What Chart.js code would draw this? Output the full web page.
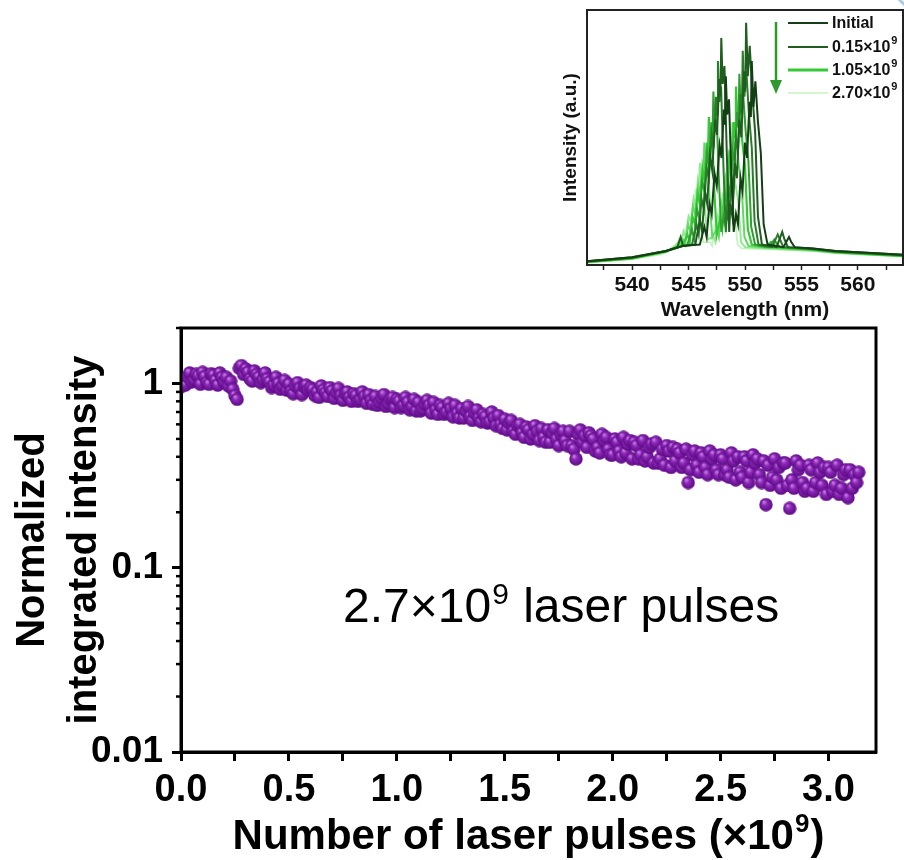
<!DOCTYPE html>
<html>
<head>
<meta charset="utf-8">
<script src="https://cdn.jsdelivr.net/npm/chart.js@4.4.0/dist/chart.umd.min.js"></script>
<style>
  body { margin: 0; background: #fff; }
  #wrap { position: relative; width: 904px; height: 860px; overflow: hidden; }
  #main { position: absolute; left: 0; top: 0; }
  #inset { position: absolute; left: 540px; top: 0; }
</style>
</head>
<body>
<div id="wrap">
  <canvas id="main" width="904" height="860" style="width:904px;height:860px"></canvas>
  <canvas id="inset" width="364" height="330" style="width:364px;height:330px"></canvas>
</div>
<script>
// ---- degradation curve: normalized integrated intensity vs pulses (x1e9), sampled every 0.01
const pulseStep = 0.01;
const intensity = [
  0.96, 1.03, 0.98, 1.09, 1.14, 1.02, 1.05, 1.12, 1.10, 0.99,
  1.15, 1.09, 1.01, 0.99, 1.13, 1.11, 1.04, 0.98, 1.14, 1.08,
  1.02, 1.08, 0.97, 1.03, 0.93, 0.86, 0.82, 1.21, 1.25, 1.12,
  1.20, 1.15, 1.06, 1.03, 1.17, 1.12, 1.08, 1.01, 1.05, 1.14,
  1.06, 1.02, 0.95, 0.98, 1.08, 1.00, 0.93, 0.97, 1.04, 0.92,
  0.99, 0.91, 0.88, 0.97, 1.01, 0.94, 0.87, 0.96, 0.98, 0.92,
  0.95, 0.93, 0.86, 0.90, 0.84, 0.97, 0.92, 0.89, 0.85, 0.95,
  0.91, 0.83, 0.89, 0.94, 0.86, 0.81, 0.88, 0.90, 0.84, 0.80,
  0.88, 0.86, 0.80, 0.82, 0.90, 0.85, 0.78, 0.87, 0.81, 0.77,
  0.85, 0.76, 0.79, 0.83, 0.87, 0.75, 0.78, 0.82, 0.84, 0.74,
  0.82, 0.80, 0.74, 0.76, 0.84, 0.79, 0.72, 0.75, 0.82, 0.71,
  0.79, 0.71, 0.73, 0.77, 0.81, 0.76, 0.69, 0.79, 0.72, 0.68,
  0.76, 0.74, 0.68, 0.70, 0.78, 0.73, 0.66, 0.76, 0.69, 0.65,
  0.73, 0.65, 0.71, 0.75, 0.66, 0.63, 0.69, 0.72, 0.65, 0.62,
  0.68, 0.66, 0.61, 0.62, 0.70, 0.65, 0.59, 0.67, 0.60, 0.57,
  0.64, 0.56, 0.61, 0.63, 0.55, 0.53, 0.59, 0.60, 0.54, 0.51,
  0.58, 0.56, 0.50, 0.53, 0.59, 0.55, 0.49, 0.57, 0.51, 0.48,
  0.56, 0.48, 0.54, 0.57, 0.50, 0.46, 0.53, 0.55, 0.49, 0.46,
  0.55, 0.46, 0.44, 0.39, 0.53, 0.56, 0.48, 0.52, 0.45, 0.54,
  0.52, 0.50, 0.43, 0.45, 0.42, 0.53, 0.49, 0.51, 0.44, 0.41,
  0.41, 0.50, 0.48, 0.43, 0.40, 0.51, 0.42, 0.47, 0.49, 0.39,
  0.48, 0.46, 0.39, 0.41, 0.49, 0.38, 0.40, 0.45, 0.47, 0.37,
  0.48, 0.37, 0.39, 0.44, 0.36, 0.46, 0.43, 0.35, 0.45, 0.38,
  0.44, 0.42, 0.35, 0.37, 0.44, 0.29, 0.34, 0.41, 0.43, 0.36,
  0.33, 0.42, 0.40, 0.35, 0.32, 0.43, 0.39, 0.41, 0.34, 0.32,
  0.41, 0.39, 0.32, 0.34, 0.31, 0.42, 0.38, 0.30, 0.40, 0.33,
  0.31, 0.40, 0.38, 0.29, 0.33, 0.41, 0.37, 0.39, 0.32, 0.29,
  0.38, 0.22, 0.36, 0.28, 0.31, 0.39, 0.30, 0.35, 0.27, 0.37,
  0.37, 0.28, 0.21, 0.30, 0.27, 0.38, 0.34, 0.36, 0.29, 0.26,
  0.27, 0.36, 0.34, 0.26, 0.29, 0.37, 0.33, 0.28, 0.35, 0.25,
  0.35, 0.33, 0.26, 0.28, 0.36, 0.25, 0.27, 0.32, 0.34, 0.24,
  0.34, 0.27, 0.32, 0.29, 0.33
];
const xTickValues = [0, 0.25, 0.5, 0.75, 1.0, 1.25, 1.5, 1.75, 2.0, 2.25, 2.5, 2.75, 3.0];
const yMajorTicks = [0.01, 0.1, 1];
const yMinorTicks = [0.02, 0.03, 0.04, 0.05, 0.06, 0.07, 0.08, 0.09,
                     0.2, 0.3, 0.4, 0.5, 0.6, 0.7, 0.8, 0.9, 2];

// ---- inset: emission spectra, [wavelength nm, intensity a.u.]
const specInitial = [[536,0.015],[540,0.03],[543,0.055],[544.5,0.075],[546.0,0.08],[546.4,0.15],[546.6,0.11],[546.85,0.24],[547.05,0.20],[547.3,0.36],[547.5,0.31],[547.75,0.47],[547.92,0.42],[548.12,0.61],[548.22,0.55],[548.3,0.74],[548.42,0.59],[548.58,0.65],[548.78,0.37],[549.0,0.13],[549.2,0.20],[549.38,0.16],[549.6,0.34],[549.78,0.29],[550.0,0.48],[550.18,0.42],[550.4,0.64],[550.52,0.58],[550.6,0.80],[550.75,0.62],[550.92,0.72],[551.15,0.56],[551.4,0.44],[551.65,0.16],[552.0,0.08],[553.4,0.07],[553.9,0.11],[554.1,0.09],[554.4,0.07],[556,0.065],[558,0.055],[560,0.05],[564,0.04]];
const spec015 = [[536,0.015],[540,0.03],[543,0.055],[544.0,0.07],[544.3,0.11],[544.5,0.075],[545.6,0.08],[546.0,0.18],[546.2,0.13],[546.45,0.29],[546.65,0.24],[546.9,0.43],[547.1,0.37],[547.35,0.57],[547.52,0.51],[547.72,0.73],[547.82,0.66],[547.9,0.89],[548.02,0.71],[548.18,0.78],[548.38,0.45],[548.6,0.13],[548.7,0.24],[548.88,0.19],[549.1,0.40],[549.28,0.34],[549.5,0.57],[549.68,0.50],[549.9,0.76],[550.02,0.68],[550.1,0.95],[550.25,0.74],[550.42,0.86],[550.65,0.67],[550.9,0.52],[551.15,0.19],[551.5,0.08],[552.8,0.07],[553.3,0.13],[553.5,0.10],[553.8,0.07],[556,0.065],[558,0.055],[560,0.05],[564,0.04]];
const spec045 = [[536,0.014],[540,0.028],[543,0.055],[544.5,0.074],[545.3,0.08],[545.7,0.16],[545.9,0.12],[546.15,0.26],[546.35,0.22],[546.6,0.38],[546.8,0.34],[547.05,0.51],[547.22,0.46],[547.42,0.66],[547.52,0.59],[547.6,0.80],[547.72,0.64],[547.88,0.70],[548.08,0.40],[548.3,0.13],[548.4,0.21],[548.58,0.17],[548.8,0.35],[548.98,0.30],[549.2,0.50],[549.38,0.45],[549.6,0.67],[549.72,0.60],[549.8,0.84],[549.95,0.66],[550.12,0.76],[550.35,0.59],[550.6,0.46],[550.85,0.17],[551.2,0.08],[552.4,0.07],[552.9,0.12],[553.1,0.10],[553.4,0.07],[556,0.063],[558,0.053],[560,0.048],[564,0.038]];
const spec075 = [[536,0.013],[540,0.027],[543,0.054],[544.3,0.072],[544.9,0.08],[545.3,0.14],[545.5,0.10],[545.75,0.22],[545.95,0.18],[546.2,0.33],[546.4,0.29],[546.65,0.44],[546.82,0.39],[547.02,0.56],[547.12,0.50],[547.2,0.68],[547.32,0.54],[547.48,0.60],[547.68,0.34],[547.9,0.13],[548.1,0.19],[548.28,0.15],[548.5,0.32],[548.68,0.27],[548.9,0.45],[549.08,0.40],[549.3,0.60],[549.42,0.54],[549.5,0.75],[549.65,0.59],[549.82,0.68],[550.05,0.53],[550.3,0.41],[550.55,0.15],[550.9,0.08],[552.1,0.07],[552.6,0.10],[552.8,0.085],[553.1,0.07],[556,0.062],[558,0.052],[560,0.047],[564,0.037]];
const spec105 = [[536,0.012],[540,0.026],[543,0.053],[544.0,0.07],[544.5,0.08],[544.9,0.12],[545.1,0.09],[545.35,0.19],[545.55,0.16],[545.8,0.28],[546.0,0.24],[546.25,0.37],[546.42,0.33],[546.62,0.48],[546.72,0.43],[546.8,0.58],[546.92,0.46],[547.08,0.51],[547.28,0.29],[547.5,0.12],[547.8,0.18],[547.98,0.14],[548.2,0.29],[548.38,0.25],[548.6,0.42],[548.78,0.37],[549.0,0.56],[549.12,0.50],[549.2,0.70],[549.35,0.55],[549.52,0.63],[549.75,0.49],[550.0,0.39],[550.25,0.14],[550.6,0.08],[551.8,0.07],[552.3,0.09],[552.8,0.07],[556,0.06],[558,0.05],[560,0.045],[564,0.036]];
const spec165 = [[536,0.011],[540,0.025],[543,0.052],[544.1,0.075],[544.5,0.10],[544.7,0.08],[544.95,0.16],[545.15,0.13],[545.4,0.23],[545.6,0.20],[545.85,0.31],[546.02,0.27],[546.22,0.39],[546.32,0.36],[546.4,0.48],[546.52,0.38],[546.68,0.42],[546.88,0.24],[547.1,0.11],[547.5,0.14],[547.68,0.11],[547.9,0.24],[548.08,0.20],[548.3,0.34],[548.48,0.30],[548.7,0.45],[548.82,0.40],[548.9,0.56],[549.05,0.44],[549.22,0.50],[549.45,0.39],[549.7,0.31],[549.95,0.11],[550.3,0.075],[552,0.068],[556,0.058],[558,0.049],[560,0.044],[564,0.035]];
const spec225 = [[536,0.01],[540,0.024],[543,0.05],[543.7,0.07],[544.1,0.09],[544.3,0.075],[544.55,0.13],[544.75,0.11],[545.0,0.19],[545.2,0.17],[545.45,0.26],[545.62,0.23],[545.82,0.33],[545.92,0.30],[546.0,0.40],[546.12,0.32],[546.28,0.35],[546.48,0.20],[546.7,0.10],[547.2,0.11],[547.38,0.09],[547.6,0.19],[547.78,0.16],[548.0,0.27],[548.18,0.24],[548.4,0.36],[548.52,0.32],[548.6,0.45],[548.75,0.35],[548.92,0.41],[549.15,0.32],[549.4,0.25],[549.65,0.09],[550.0,0.07],[552,0.065],[556,0.056],[558,0.048],[560,0.043],[564,0.034]];
const spec270 = [[536,0.01],[540,0.022],[542.5,0.042],[543.3,0.06],[543.7,0.075],[543.9,0.065],[544.15,0.10],[544.35,0.09],[544.6,0.14],[544.8,0.13],[545.05,0.19],[545.22,0.17],[545.42,0.25],[545.52,0.22],[545.6,0.30],[545.72,0.24],[545.88,0.26],[546.08,0.15],[546.3,0.09],[546.9,0.09],[547.08,0.075],[547.3,0.15],[547.48,0.13],[547.7,0.21],[547.88,0.19],[548.1,0.28],[548.22,0.25],[548.3,0.35],[548.45,0.27],[548.62,0.32],[548.85,0.25],[549.1,0.19],[549.35,0.08],[549.7,0.065],[552,0.062],[556,0.055],[558,0.047],[560,0.042],[564,0.033]];
const spectra = [specInitial, spec015, spec045, spec075, spec105, spec165, spec225, spec270];
const specLabels = ['Initial', '0.15×10^9', '', '', '1.05×10^9', '', '', '2.70×10^9'];
const specColors = ['#143f14', '#1f5e1f', '#2a7c2a', '#2f9f2f', '#36c936', '#62d962', '#93e893', '#c4f4bf'];
const specWidths = [2, 2, 2, 2, 2.2, 2, 2, 1.8];
const insetTicks = [537.5, 540, 542.5, 545, 547.5, 550, 552.5, 555, 557.5, 560, 562.5];

Chart.defaults.font.family = '"Liberation Sans", Arial, sans-serif';
Chart.defaults.color = '#000';

// shaded purple bead used as the marker
function makeBead(r) {
  const c = document.createElement('canvas');
  c.width = c.height = r * 2;
  const g = c.getContext('2d');
  const grad = g.createRadialGradient(r * 0.7, r * 0.6, 0.5, r, r, r);
  grad.addColorStop(0, '#c47ce2');
  grad.addColorStop(0.35, '#8a27b5');
  grad.addColorStop(1, '#5a0983');
  g.fillStyle = grad;
  g.beginPath();
  g.arc(r, r, r - 0.3, 0, Math.PI * 2);
  g.fill();
  return c;
}
const bead = makeBead(7);

const pulsePoints = intensity.map((v, i) => ({ x: i * pulseStep, y: v }));

// text with a raised "9" after the given prefix
function drawPow(ctx, before, after, x, y, big, small, rise) {
  ctx.font = big;
  ctx.fillText(before, x, y);
  x += ctx.measureText(before).width + 1;
  ctx.font = small;
  ctx.fillText('9', x, y - rise);
  x += ctx.measureText('9').width + 1;
  ctx.font = big;
  ctx.fillText(after, x, y);
}

// frame, minor log ticks, x title and the pulse-count note
const mainDecor = {
  id: 'mainDecor',
  afterDraw(chart) {
    const { ctx, chartArea: a } = chart;
    const ys = chart.scales.y;
    ctx.save();
    ctx.strokeStyle = '#000';
    ctx.lineWidth = 3;
    ctx.strokeRect(a.left, a.top, a.right - a.left, a.bottom - a.top);
    ctx.lineWidth = 2.5;
    yMinorTicks.forEach(v => {
      const y = ys.getPixelForValue(v);
      ctx.beginPath();
      ctx.moveTo(a.left - 5, y);
      ctx.lineTo(a.left, y);
      ctx.stroke();
    });
    ctx.fillStyle = '#000';
    ctx.textBaseline = 'alphabetic';

    // x axis title
    const tBig = 'bold 42px "Liberation Sans", Arial, sans-serif';
    const tSmall = 'bold 26px "Liberation Sans", Arial, sans-serif';
    ctx.font = tBig;
    const w1 = ctx.measureText('Number of laser pulses (×10').width;
    const w3 = ctx.measureText(')').width;
    ctx.font = tSmall;
    const w2 = ctx.measureText('9').width;
    const tx = (a.left + a.right) / 2 - (w1 + w2 + w3 + 2) / 2;
    drawPow(ctx, 'Number of laser pulses (×10', ')', tx, 849, tBig, tSmall, 17);

    // annotation
    drawPow(ctx, '2.7×10', ' laser pulses', 343, 622,
      '48px "Liberation Sans", Arial, sans-serif',
      '30px "Liberation Sans", Arial, sans-serif', 18);
    ctx.restore();
  }
};

new Chart(document.getElementById('main'), {
  type: 'scatter',
  data: {
    datasets: [{
      data: pulsePoints,
      pointStyle: bead,
      pointRadius: 7,
      pointHoverRadius: 7
    }]
  },
  options: {
    responsive: false,
    animation: false,
    devicePixelRatio: 1,
    layout: { padding: { top: 328, right: 28, left: 0, bottom: 0 } },
    plugins: { legend: { display: false }, tooltip: { enabled: false } },
    scales: {
      x: {
        type: 'linear',
        min: 0,
        max: 3.22,
        afterFit: s => { s.height = 108; },
        afterBuildTicks: s => { s.ticks = xTickValues.map(v => ({ value: v })); },
        ticks: {
          autoSkip: false,
          maxRotation: 0,
          padding: 7,
          color: '#000',
          font: { size: 38, weight: 'bold' },
          callback: v => (Math.abs(v * 2 - Math.round(v * 2)) < 1e-6 ? v.toFixed(1) : '')
        },
        grid: { drawOnChartArea: false, tickLength: 9, tickWidth: 3, tickColor: '#000' },
        border: { color: '#000', width: 3 },
        title: { display: false }
      },
      y: {
        type: 'logarithmic',
        min: 0.01,
        max: 2,
        afterFit: s => { s.width = 181; },
        afterBuildTicks: s => { s.ticks = yMajorTicks.map(v => ({ value: v })); },
        ticks: {
          autoSkip: false,
          padding: 9,
          color: '#000',
          font: { size: 37, weight: 'bold' },
          callback: v => String(v)
        },
        grid: { drawOnChartArea: false, tickLength: 9, tickWidth: 3, tickColor: '#000' },
        border: { color: '#000', width: 3 },
        title: {
          display: true,
          text: ['Normalized', 'integrated intensity'],
          color: '#000',
          font: { size: 40, weight: 'bold', lineHeight: 1.3 },
          padding: { top: 7, bottom: 0 }
        }
      }
    }
  },
  plugins: [mainDecor]
});

// inset frame, legend with superscripts, trend arrow
const insetDecor = {
  id: 'insetDecor',
  afterDraw(chart) {
    const { ctx, chartArea: a } = chart;
    ctx.save();
    ctx.strokeStyle = '#222';
    ctx.lineWidth = 2;
    ctx.strokeRect(a.left, a.top, a.right - a.left, a.bottom - a.top);

    const ox = 540;
    const rows = [23, 47, 70, 93];
    const legendWidths = [2, 2.2, 3.2, 1.4];
    let r = 0;
    specLabels.forEach((label, i) => {
      if (!label) return;
      const y = rows[r];
      ctx.strokeStyle = specColors[i];
      ctx.lineWidth = legendWidths[r];
      ctx.beginPath();
      ctx.moveTo(788 - ox, y);
      ctx.lineTo(828 - ox, y);
      ctx.stroke();
      const parts = label.split('^');
      ctx.fillStyle = '#111';
      ctx.textBaseline = 'middle';
      ctx.font = 'bold 16px "Liberation Sans", Arial, sans-serif';
      ctx.fillText(parts[0], 832 - ox, y + 1);
      if (parts[1]) {
        const w = ctx.measureText(parts[0]).width;
        ctx.font = 'bold 11px "Liberation Sans", Arial, sans-serif';
        ctx.fillText(parts[1], 832 - ox + w + 1, y - 6);
      }
      r++;
    });

    // downward arrow
    const axp = 776 - ox;
    ctx.strokeStyle = '#2e9a2e';
    ctx.fillStyle = '#2e9a2e';
    ctx.lineWidth = 2.5;
    ctx.beginPath();
    ctx.moveTo(axp, 22);
    ctx.lineTo(axp, 82);
    ctx.stroke();
    ctx.beginPath();
    ctx.moveTo(axp - 6, 80);
    ctx.lineTo(axp + 6, 80);
    ctx.lineTo(axp, 94);
    ctx.closePath();
    ctx.fill();

    // slide corner accent
    ctx.strokeStyle = '#a8cdea';
    ctx.lineWidth = 3;
    ctx.beginPath();
    ctx.arc(392, -30, 44, Math.PI * 0.55, Math.PI * 0.95);
    ctx.stroke();
    ctx.restore();
  }
};

new Chart(document.getElementById('inset'), {
  type: 'line',
  data: {
    datasets: spectra.map((pts, i) => ({
      label: specLabels[i],
      data: pts.map(p => ({ x: p[0], y: p[1] })),
      borderColor: specColors[i],
      borderWidth: specWidths[i],
      pointRadius: 0,
      tension: 0,
      fill: false
    }))
  },
  options: {
    responsive: false,
    animation: false,
    devicePixelRatio: 1,
    layout: { padding: { top: 10, right: 1, left: 0, bottom: 0 } },
    plugins: { legend: { display: false }, tooltip: { enabled: false } },
    scales: {
      x: {
        type: 'linear',
        min: 536,
        max: 564,
        afterFit: s => { s.height = 65; },
        afterBuildTicks: s => { s.ticks = insetTicks.map(v => ({ value: v })); },
        ticks: {
          autoSkip: false,
          maxRotation: 0,
          padding: 3,
          color: '#111',
          font: { size: 21, weight: 'bold' },
          callback: v => (v % 5 === 0 ? String(v) : '')
        },
        grid: { drawOnChartArea: false, tickLength: 5, tickWidth: 1.5, tickColor: '#222' },
        border: { color: '#222', width: 2 },
        title: {
          display: true,
          text: 'Wavelength (nm)',
          color: '#111',
          font: { size: 21, weight: 'bold', lineHeight: 1.2 },
          padding: { top: 0, bottom: 7 }
        }
      },
      y: {
        min: 0,
        max: 1,
        afterFit: s => { s.width = 47; },
        ticks: { display: false },
        grid: { display: false },
        border: { color: '#222', width: 2 },
        title: {
          display: true,
          text: 'Intensity (a.u.)',
          color: '#111',
          font: { size: 19, weight: 'bold', lineHeight: 1.2 },
          padding: { top: 19, bottom: 0 }
        }
      }
    }
  },
  plugins: [insetDecor]
});
</script>
</body>
</html>
